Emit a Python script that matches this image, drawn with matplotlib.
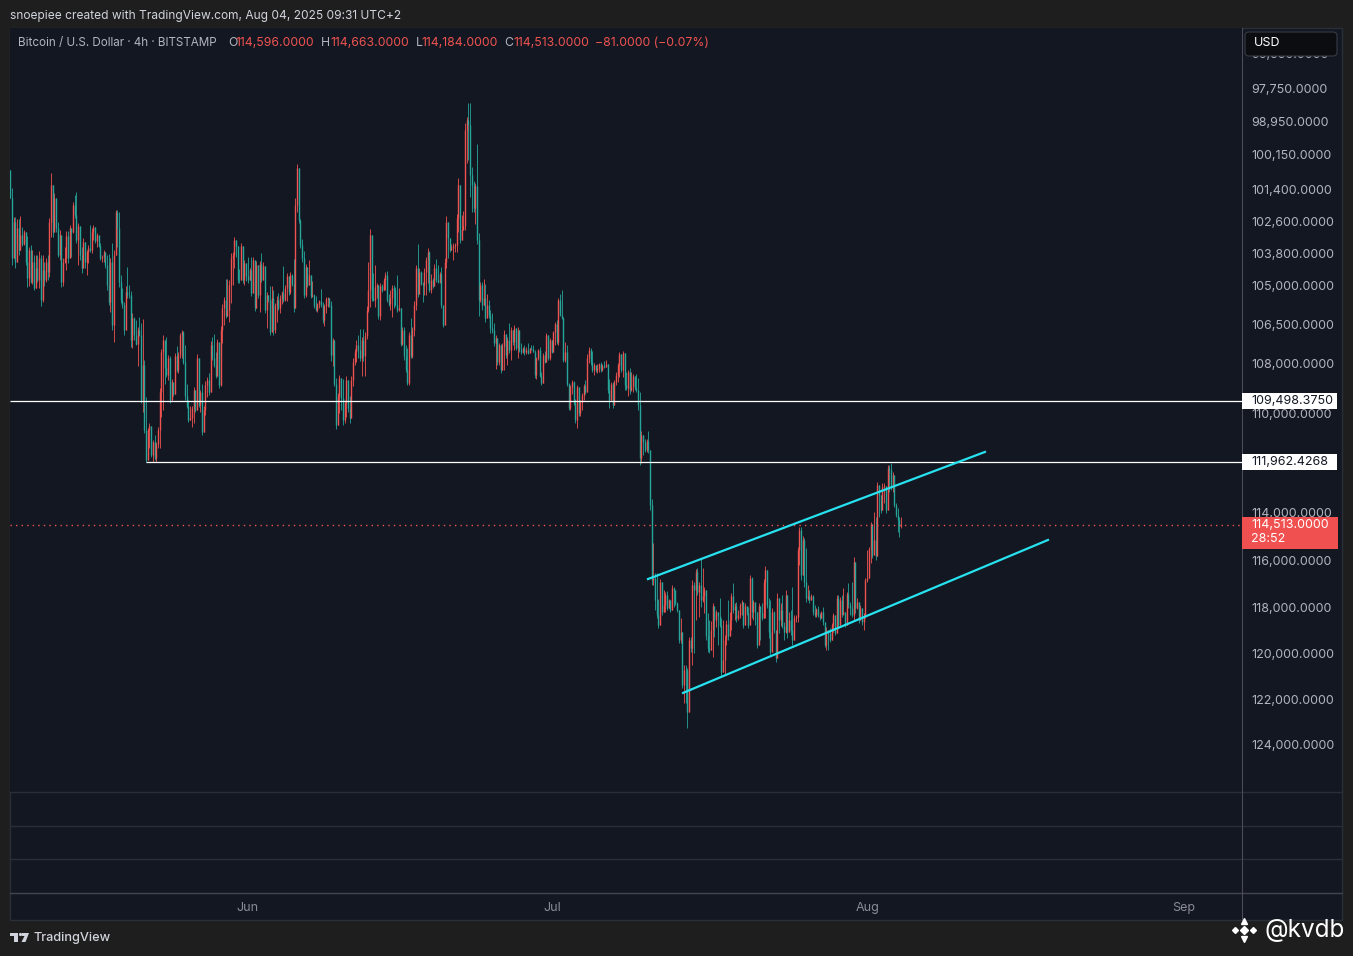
import numpy as np
import pandas as pd
import matplotlib
matplotlib.use("Agg")
import matplotlib.pyplot as plt
import matplotlib.dates as mdates
from matplotlib.patches import Rectangle, FancyBboxPatch, Polygon, Circle
from matplotlib.lines import Line2D
from matplotlib.ticker import NullLocator, NullFormatter
from matplotlib.transforms import IdentityTransform

W, H = 1353, 956
plt.rcParams['font.family'] = ['Inter', 'DejaVu Sans']

# BTC/USD 4h candles, Bitstamp, first candle 2025-05-08 18:00 (UTC+2)
start = '2025-05-08 18:00'
first_open = 100700
close = [
    101730, 103970, 102620, 104120, 102840, 103660, 103100, 103440, 102990, 104120, 104720, 103660,
    104870, 104120, 105100, 104340, 104800, 103970, 105560, 104420, 104800, 104120, 104490, 102620,
    101250, 102990, 101730, 102840, 103850, 103100, 104870, 104120, 103970, 103140, 103970, 102840,
    102990, 101990, 102360, 103290, 102770, 103850, 104340, 103360, 104120, 103740, 103590, 103660,
    102990, 102800, 103330, 103100, 103510, 103970, 103930, 103740, 104230, 104990, 105640, 104120,
    106520, 103850, 102250, 102840, 104870, 105560, 105750, 106710, 105250, 105370, 105370, 107100,
    106250, 106910, 107260, 106710, 106910, 109460, 108080, 110650, 111860, 110650, 110490, 111660,
    111140, 111780, 111220, 110650, 109140, 107570, 107100, 108200, 108470, 107800, 109460, 108750,
    109220, 107730, 108270, 107690, 106910, 106790, 107960, 109300, 109700, 110250, 110170, 109780,
    109060, 109860, 107800, 109660, 109140, 110730, 109860, 108860, 108670, 109140, 107300, 107800,
    108080, 108510, 107180, 108860, 106710, 105870, 105560, 106170, 105940, 104990, 103970, 103850,
    103290, 103510, 104800, 104800, 103510, 104800, 104150, 104650, 104800, 104420, 105290, 104040,
    105870, 104230, 105370, 104190, 104800, 104270, 105940, 105370, 105560, 106790, 105480, 106710,
    105750, 105560, 105870, 105480, 105290, 105560, 105100, 104650, 105250, 104610, 104950, 105870,
    101990, 100630, 102540, 103480, 103970, 105370, 104310, 104990, 104610, 105410, 105370, 105790,
    105940, 105710, 105600, 105750, 106330, 105790, 105520, 105480, 105750, 107690, 107100, 108820,
    110450, 109300, 108590, 109380, 110250, 109580, 108670, 109780, 110170, 108670, 107960, 107570,
    107300, 107490, 107800, 107100, 107730, 106950, 105940, 105180, 103100, 105480, 105560, 105060,
    104990, 106170, 105030, 105180, 104800, 104610, 105560, 105710, 105480, 105100, 105180, 105750,
    105940, 105870, 107260, 106710, 107730, 108270, 108790, 106910, 107730, 106710, 105750, 104340,
    105330, 104490, 104950, 104990, 104490, 104040, 103740, 105180, 104800, 105030, 104340, 104800,
    104870, 104570, 105750, 106520, 104120, 102620, 103210, 103660, 103590, 103510, 103480, 102470,
    101250, 103290, 102920, 102770, 99250, 98890, 99070, 100880, 101250, 102100, 101290, 103290,
    105560, 104990, 105750, 105480, 106250, 105750, 106140, 106640, 106710, 107220, 107020, 107960,
    107300, 108270, 107340, 106870, 107690, 107100, 107490, 106710, 107180, 106640, 107410, 106710,
    107490, 107570, 107410, 107570, 107490, 107610, 107410, 107450, 107570, 108470, 107800, 107490,
    108510, 108790, 107690, 107960, 106910, 107800, 107100, 107570, 106790, 106480, 107180, 105560,
    106140, 106250, 107880, 107570, 108820, 109780, 108940, 108750, 109580, 110250, 108940, 109980,
    109540, 109260, 108900, 109140, 107800, 107490, 107960, 108270, 108080, 108270, 108200, 108040,
    108270, 108120, 108160, 108040, 109060, 109460, 108820, 109660, 108750, 108470, 108080, 107650,
    108270, 107610, 108860, 108980, 108350, 109060, 108900, 108510, 108980, 109060, 109660, 111780,
    110860, 111140, 111460, 111100, 111460, 113710, 116840, 116750, 117690, 118330, 118760, 116920,
    118200, 117900, 117480, 118030, 117690, 118120, 117180, 117260, 117820, 118120, 119410, 119060,
    121370, 120710, 120710, 122570, 119410, 119760, 117050, 117260, 116500, 117350, 117050, 117690,
    117520, 117260, 119240, 119760, 119840, 118980, 117950, 118550, 118200, 118370, 118760, 120800,
    120280, 119410, 118720, 119240, 118550, 117520, 118120, 117950, 118460, 118330, 117900, 117780,
    118760, 117950, 118250, 118760, 116750, 118200, 117780, 118200, 119630, 117950, 118250, 118460,
    116920, 116420, 117900, 119060, 119930, 118200, 118980, 120190, 117600, 118550, 118120, 118800,
    119060, 117480, 119060, 118550, 118980, 119410, 118460, 118420, 115580, 114740, 116630, 115160,
    116920, 117600, 117520, 117690, 117520, 118200, 118330, 118070, 118330, 118460, 118200, 118630,
    119630, 118980, 119110, 119410, 118760, 118330, 119110, 117600, 118760, 117690, 118290, 118200,
    118760, 117430, 117900, 118030, 118330, 116080, 118030, 117780, 118550, 118030, 118630, 118420,
    116840, 116750, 115530, 114490, 115790, 115160, 115830, 112880, 113290, 113910, 112970, 112920,
    113910, 112190, 112270, 113010, 112480, 113710, 114120, 114330, 114596, 114513,
]
high = [
    101730, 104230, 103850, 104340, 104000, 103850, 103480, 103510, 103480, 104230, 105060, 105030,
    104910, 104950, 105180, 104910, 104870, 105100, 105790, 105640, 105030, 104870, 104800, 104680,
    103180, 103180, 102840, 102990, 103930, 104040, 105060, 105030, 104150, 104420, 104150, 103780,
    103930, 103030, 102470, 103400, 104230, 104040, 104530, 104000, 104340, 104610, 104150, 103740,
    103780, 103290, 103400, 103550, 103550, 104040, 104120, 104120, 104340, 105180, 105750, 106020,
    106710, 107180, 103780, 103550, 105060, 105680, 105870, 106910, 106440, 105480, 105480, 107370,
    107410, 107100, 107300, 108120, 106950, 109580, 109940, 110780, 111950, 111860, 111380, 111740,
    111960, 111860, 111950, 111380, 111380, 110130, 109860, 108820, 108550, 108670, 109580, 109340,
    109300, 109180, 108350, 108390, 107800, 107800, 108040, 109460, 109780, 110330, 110250, 110530,
    110370, 109940, 109780, 109740, 109940, 110860, 110570, 110060, 109340, 109260, 109140, 107880,
    108160, 108590, 108200, 108980, 108900, 107220, 106520, 106250, 106060, 106410, 105680, 104990,
    104340, 103930, 104910, 104910, 103930, 104910, 104990, 104840, 104910, 104720, 105410, 104800,
    105980, 105870, 105480, 106020, 104870, 104800, 106060, 106640, 105640, 106910, 105560, 106910,
    106830, 106410, 105940, 106060, 105710, 105640, 105600, 105600, 105370, 105330, 105030, 106020,
    104680, 102250, 102650, 103590, 104120, 105480, 105450, 105060, 104720, 105480, 105450, 105870,
    105980, 106020, 105870, 105830, 106440, 106560, 106060, 105830, 105830, 107920, 108120, 108900,
    110610, 110370, 109980, 109860, 110450, 110370, 110130, 109940, 110370, 109380, 108900, 108080,
    107960, 107800, 107920, 108510, 107920, 108510, 107060, 106020, 105830, 105600, 105600, 105830,
    105480, 106290, 106330, 105250, 105180, 105180, 105640, 105790, 105940, 106210, 105870, 105790,
    106020, 105980, 107340, 107300, 107880, 108350, 108860, 108860, 107800, 107800, 106950, 105940,
    105450, 105250, 104990, 105640, 105370, 105370, 104910, 105250, 105290, 105100, 104950, 104870,
    104910, 104910, 105870, 106600, 106210, 104340, 103970, 103740, 103660, 104040, 103740, 103740,
    102990, 103400, 102990, 102880, 102920, 100450, 100340, 101690, 102250, 102250, 102690, 103440,
    106170, 105640, 105940, 105680, 106410, 105870, 106250, 106830, 106830, 107340, 108230, 108080,
    108080, 108390, 108160, 108270, 107800, 108080, 107610, 107880, 107300, 107490, 107490, 107800,
    107570, 107650, 107610, 107690, 107650, 107650, 107610, 107490, 107570, 108590, 108630, 107880,
    108550, 108860, 108670, 108000, 107960, 107880, 107880, 107610, 107300, 107300, 107260, 107300,
    106170, 106290, 107960, 107960, 108900, 109860, 109860, 109220, 109660, 110370, 110570, 110090,
    110090, 109860, 109460, 109220, 109140, 108000, 108080, 108350, 108470, 108350, 108390, 108350,
    108350, 108310, 108200, 108120, 109180, 109780, 109180, 109780, 109180, 108860, 108750, 108550,
    108350, 108550, 109060, 109060, 109300, 109220, 109100, 109140, 109060, 109140, 109860, 112070,
    111990, 111660, 111540, 111540, 111580, 113910, 117050, 117050, 118120, 118460, 118890, 118290,
    118330, 117990, 118200, 118120, 117990, 118200, 118120, 117990, 117900, 118200, 119540, 119540,
    121510, 122170, 122170, 123280, 120540, 119930, 120500, 119970, 118550, 117480, 118420, 117990,
    117780, 118250, 119410, 119930, 119970, 119500, 120150, 119280, 118850, 119630, 118850, 121020,
    120500, 120930, 119630, 119410, 118680, 118980, 118250, 118550, 118630, 118550, 118460, 118330,
    118890, 118420, 118330, 118890, 118330, 118460, 118550, 118760, 119760, 118680, 119410, 118550,
    117780, 118460, 118030, 119320, 120060, 119410, 119110, 120360, 119060, 119110, 118800, 118890,
    119410, 119110, 119320, 118980, 119190, 119630, 119110, 118630, 118630, 116210, 116840, 115450,
    117140, 117780, 117690, 117820, 117690, 118330, 118420, 118420, 118420, 118550, 118420, 118760,
    119710, 119840, 119840, 119500, 119320, 119060, 119190, 118420, 118890, 118460, 118420, 118330,
    118850, 118680, 118030, 118330, 118420, 118550, 118250, 118070, 118680, 118550, 118760, 118980,
    118460, 116920, 116120, 116120, 115910, 115280, 116000, 115740, 114200, 114040, 113830, 113620,
    114040, 113500, 113170, 113090, 113170, 113790, 114200, 114820, 115030, 114663,
]
low = [
    100700, 101360, 102430, 102430, 102510, 102510, 102390, 102800, 102920, 103140, 103140, 103550,
    103480, 103660, 103850, 103850, 103850, 103700, 103850, 103850, 104120, 103970, 103850, 102470,
    100810, 101800, 101540, 101730, 102620, 102920, 103630, 103970, 103550, 102950, 102950, 102730,
    102840, 101880, 101620, 101510, 102650, 102800, 103550, 103210, 103480, 103660, 103480, 102730,
    102840, 102730, 102920, 103030, 103210, 103400, 103850, 103660, 103740, 103850, 103810, 103970,
    103400, 103660, 102170, 102170, 102250, 104610, 105100, 105640, 105030, 104310, 104990, 105220,
    106060, 106210, 106330, 106600, 106210, 106440, 106290, 107880, 109340, 110570, 110370, 110650,
    111060, 110860, 111140, 110530, 108980, 107450, 106910, 108120, 106990, 107690, 107730, 108630,
    108820, 107610, 107340, 107570, 106830, 106710, 106750, 107300, 108820, 109460, 109700, 109700,
    108940, 109060, 107650, 108670, 109060, 108820, 109700, 108710, 108550, 108390, 107140, 106990,
    106870, 107570, 107060, 107800, 106560, 105710, 105450, 104760, 104760, 104800, 103780, 103740,
    103180, 103400, 103590, 104380, 103400, 103590, 104040, 104610, 103930, 104340, 103930, 103930,
    104720, 104080, 104720, 104080, 103780, 104120, 104530, 105250, 105480, 105030, 105030, 105180,
    105680, 105410, 105290, 105370, 105220, 104270, 104990, 104530, 104800, 104490, 104570, 104000,
    101730, 100480, 101210, 102510, 103250, 103700, 104190, 104310, 104040, 104800, 104840, 105330,
    105410, 105680, 105560, 105140, 105640, 105710, 105450, 105450, 105600, 105600, 107020, 107760,
    108590, 109180, 108470, 109220, 108630, 109460, 108510, 109100, 109300, 108510, 107800, 107450,
    107100, 106910, 106680, 106990, 106680, 106790, 105790, 104120, 102880, 103930, 104530, 104230,
    104910, 105140, 104910, 104950, 104720, 104490, 104460, 105330, 105180, 104990, 104990, 105060,
    104610, 105100, 106290, 106600, 106600, 107300, 107410, 106790, 106250, 106600, 105600, 104230,
    103440, 104340, 104460, 104870, 104340, 103930, 103590, 103700, 104570, 104720, 104190, 104000,
    104230, 104490, 104310, 105870, 103970, 102390, 103060, 103210, 103440, 103400, 103400, 102320,
    100990, 101950, 102360, 102210, 99000, 98780, 98280, 98280, 100590, 101100, 101180, 99760,
    103030, 104870, 104870, 104760, 104950, 105330, 105560, 105940, 106060, 106440, 106910, 107060,
    107220, 107260, 107220, 106710, 107100, 106990, 106440, 106600, 106830, 106520, 106950, 106600,
    107300, 107220, 107370, 107300, 107370, 107220, 107410, 107300, 107300, 107490, 107760, 107450,
    107370, 108350, 107610, 107530, 106830, 107260, 107020, 107140, 106750, 106410, 106330, 105480,
    105330, 105180, 106210, 107180, 107300, 108790, 108860, 108670, 108710, 109420, 108860, 109140,
    109460, 109180, 108820, 108670, 107650, 107370, 107410, 107530, 108000, 108080, 108040, 108000,
    107960, 108040, 107920, 107880, 108160, 108630, 108750, 108750, 108670, 108350, 108000, 107570,
    107880, 107530, 107840, 108350, 108270, 108200, 108350, 108430, 108590, 108430, 108590, 109140,
    110690, 111020, 111020, 111020, 110690, 111500, 113460, 115280, 116540, 116540, 117650, 116800,
    116970, 117260, 117350, 117310, 117650, 117730, 117050, 117140, 117350, 117780, 118120, 118460,
    119060, 120500, 120500, 120630, 119280, 119280, 116840, 116920, 116370, 116330, 116920, 115910,
    116330, 117140, 118120, 118250, 118550, 118590, 117820, 117990, 118120, 118250, 117600, 118460,
    118550, 119190, 118550, 117690, 118200, 117390, 116970, 117820, 117780, 118120, 117820, 117690,
    117780, 117820, 117950, 117990, 116630, 116710, 117690, 117900, 118250, 117820, 118120, 117820,
    116800, 116250, 116710, 117600, 117690, 118030, 118160, 119320, 117390, 118420, 117820, 117480,
    118630, 117260, 118120, 118200, 118120, 117140, 118330, 118330, 115450, 114620, 114620, 114990,
    115070, 115490, 117050, 117260, 117430, 117480, 117900, 118030, 117950, 118250, 118160, 117990,
    118680, 118850, 118980, 118890, 118680, 118250, 118550, 117480, 117480, 117560, 117480, 117180,
    118200, 117350, 116970, 117780, 116920, 115870, 116970, 117600, 117780, 117900, 118120, 118250,
    116750, 115580, 115450, 114410, 114620, 113990, 114200, 112760, 113210, 113500, 112800, 112800,
    112920, 112070, 112070, 111990, 112350, 113420, 113620, 113830, 114200, 114184,
]
assert len(close) == len(high) == len(low)

x_range = ['2025-05-08 17:15', '2025-09-06 17:45']
y_range = [126177, 95646]   # inverted log price scale
month_ticks = ['2025-06-01', '2025-07-01', '2025-08-01', '2025-09-01']
month_labels = ['Jun', 'Jul', 'Aug', 'Sep']
# 112,000 sits under the 111,962 level label, so it is not listed
price_ticks = [96550, 97750, 98950, 100150, 101400, 102600, 103800, 105000, 106500,
               108000, 110000, 114000, 116000, 118000, 120000, 122000, 124000]

levels = [109498.3750, 111962.4268]
level_from = ['2025-05-08 17:15', '2025-05-22 02:00']
upper_dates = ['2025-07-10 09:20', '2025-08-12 11:45']
upper_prices = [116800, 111540]
lower_dates = ['2025-07-13 19:55', '2025-08-18 16:20']
lower_prices = [121725, 115157]
countdown = '28:52'
change, change_pct = -81.0, -0.07

BG = '#1e1e1e'
PANE = '#131722'
UP = '#26a69a'
DOWN = '#ef5350'
CYAN = '#27e2ef'
GRAYTXT = '#b2b5be'
SEP = '#2a2e39'

I = IdentityTransform()


def py(y):
    # pixel row from top -> display y
    return H - y


fig = plt.figure(figsize=(W / 100, H / 100), dpi=100)
fig.patch.set_facecolor(BG)
fig.add_artist(Rectangle((10, py(920)), 1332, 892, transform=I, fc=PANE, ec=SEP, lw=1, zorder=-5))

ax = fig.add_axes([10 / W, 1 - 792 / H, 1232 / W, 764 / H])
ax.set_facecolor(PANE)
for s in ax.spines.values():
    s.set_visible(False)
ax.set_yscale('log')
ax.set_ylim(*y_range)
ax.set_xlim(mdates.date2num(pd.to_datetime(x_range)))
ax.set_xticks([])
ax.yaxis.tick_right()
ax.yaxis.set_minor_locator(NullLocator())
ax.yaxis.set_minor_formatter(NullFormatter())
ax.set_yticks(price_ticks)
ax.set_yticklabels([f'{p:,.4f}' for p in price_ticks])
ax.tick_params(axis='y', length=0, pad=6.5, colors=GRAYTXT, labelsize=9)

# candles
t = pd.date_range(start, periods=len(close), freq='4h')
x = mdates.date2num(t)
c = np.array(close, dtype=float)
o = np.r_[first_open, c[:-1]]
hi = np.maximum(np.array(high, dtype=float), np.maximum(o, c))
lo = np.minimum(np.array(low, dtype=float), np.minimum(o, c))
col = np.where(c >= o, UP, DOWN)
ax.vlines(x, lo, hi, colors=col, lw=0.6, zorder=2)
ax.vlines(x, o, c, colors=col, lw=1.0, zorder=2)

# horizontal levels + last price
xmax = ax.get_xlim()[1]
for lv, fr in zip(levels, level_from):
    ax.hlines(lv, mdates.date2num(pd.Timestamp(fr)), xmax, colors='white', lw=0.9, zorder=3)
ax.axhline(c[-1], color=DOWN, lw=1.0, ls=(0, (1, 3)), zorder=3)

# channel
ax.plot(mdates.date2num(pd.to_datetime(upper_dates)), upper_prices, color=CYAN, lw=1.6, zorder=4)
ax.plot(mdates.date2num(pd.to_datetime(lower_dates)), lower_prices, color=CYAN, lw=1.6, zorder=4)

# month labels
for d, lab in zip(month_ticks, month_labels):
    ax.text(mdates.date2num(pd.Timestamp(d)), -116 / 764, lab, transform=ax.get_xaxis_transform(),
            ha='center', va='center', color='#8a8d96', fontsize=9)

# pane separators
for yy, cc in [(792, SEP), (826, SEP), (859, SEP), (893, '#434651')]:
    fig.add_artist(Line2D([10, 1342], [py(yy), py(yy)], transform=I, color=cc, lw=1))
fig.add_artist(Line2D([1242, 1242], [py(28), py(920)], transform=I, color='#4a4d57', lw=0.8))


def ydisp(price):
    return ax.transData.transform((x[0], price))[1]


# price scale labels
for lv in levels:
    yp = ydisp(lv)
    fig.add_artist(Rectangle((1242, yp - 8), 95, 16, transform=I, fc='white', ec='none', zorder=5))
    fig.text(1251, yp, f'{lv:,.4f}', transform=I, va='center', ha='left', color='#131722',
             fontsize=9, zorder=6)
yp = ydisp(c[-1])
fig.add_artist(Rectangle((1242, yp - 24), 96, 32, transform=I, fc='#f0504f', ec='none', zorder=5))
fig.text(1251, yp, f'{c[-1]:,.4f}', transform=I, va='center', ha='left', color='white', fontsize=9, zorder=6)
fig.text(1251, yp - 14, countdown, transform=I, va='center', ha='left', color='white', fontsize=9, zorder=6)

# currency box
fig.add_artist(FancyBboxPatch((1245, py(56)), 92, 24, boxstyle='round,pad=0,rounding_size=4',
                              transform=I, fc='#0c0d11', ec='#363a45', lw=0.8, zorder=5))
fig.text(1254, py(43.5), 'USD', transform=I, va='center', ha='left', color='white', fontsize=9, zorder=6)

# header and legend
fig.text(10, py(16), 'snoepiee created with TradingView.com, Aug 04, 2025 09:31 UTC+2', transform=I,
         va='center', ha='left', color='#d1d4dc', fontsize=8.6)
fig.text(18, py(43), 'Bitcoin / U.S. Dollar · 4h · BITSTAMP', transform=I, va='center', ha='left',
         color=GRAYTXT, fontsize=8.4)
legend_items = [('O', o[-1], 228, 235.5), ('H', hi[-1], 321, 330), ('L', lo[-1], 415.5, 421),
                ('C', c[-1], 504, 513)]
for k, v, xk, xv in legend_items:
    fig.text(xk, py(43), k, transform=I, va='center', ha='left', color=GRAYTXT, fontsize=8.8)
    fig.text(xv, py(43), f'{v:,.4f}', transform=I, va='center', ha='left', color=DOWN, fontsize=8.8)
chg = f'{change:,.4f} ({change_pct:.2f}%)'.replace('-', '\u2212')
fig.text(595, py(43), chg, transform=I, va='center', ha='left', color=DOWN, fontsize=8.8)

# footer: TradingView mark + name
logo = '#d1d4dc'
fig.add_artist(Rectangle((10, py(936)), 8, 3, transform=I, fc=logo, ec='none'))
fig.add_artist(Rectangle((14, py(942)), 4, 9, transform=I, fc=logo, ec='none'))
fig.add_artist(Circle((20.5, py(934.5)), 1.6, transform=I, fc=logo, ec='none'))
fig.add_artist(Polygon([(22, py(933)), (29, py(933)), (25.5, py(942)), (21.5, py(942)), (24.5, py(936)),
                        (22, py(936))], closed=True, transform=I, fc=logo, ec='none'))
fig.text(33, py(938), 'TradingView', transform=I, va='center', ha='left', color=logo, fontsize=9.2,
         fontweight='medium')

# watermark
fig.text(1264, py(930), '@kvdb', transform=I, va='center', ha='left', color='white', fontsize=17.5)
for (lx, ly), ms, mk in [((1244, 930), 4, 'D'), ((1235, 930), 3, 'D'), ((1253, 930), 3, 'D'),
                         ((1244, 921), 5, '^'), ((1244, 939), 5, 'v')]:
    fig.add_artist(Line2D([lx], [py(ly)], transform=I, marker=mk, ms=ms, color='white', lw=0))

fig.savefig('out.png', dpi=100, facecolor=BG)
